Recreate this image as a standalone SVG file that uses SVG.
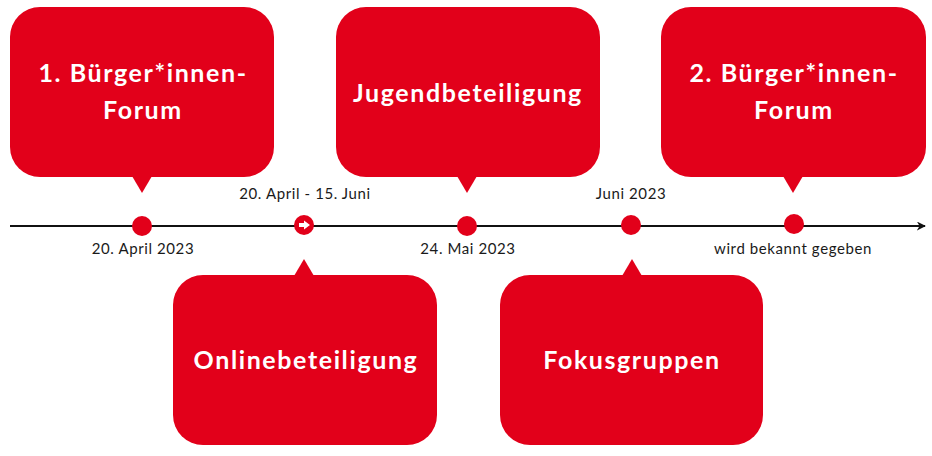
<svg xmlns="http://www.w3.org/2000/svg" width="932" height="456" viewBox="0 0 932 456">
  <defs>
    <style>
      .bubble { fill: #E2001A; }
      .title { font-family: Lato, "Open Sans", "Liberation Sans", sans-serif; font-weight: 700; font-size: 25px; letter-spacing: 1.6px; fill: #ffffff; text-anchor: middle; }
      .label { font-family: Lato, "Open Sans", "Liberation Sans", sans-serif; font-size: 15px; letter-spacing: 0.6px; fill: #1a1a1a; text-anchor: middle; }
      .dot { fill: #E2001A; }
      .axis { stroke: #111111; stroke-width: 2; fill: none; }
    </style>
    <marker id="arrow" viewBox="0 0 10 10" refX="9" refY="5" markerWidth="4.5" markerHeight="4.5" orient="auto" markerUnits="strokeWidth">
      <path d="M0,0 L10,5 L0,10 L3,5 Z" fill="#111111"/>
    </marker>
  </defs>
  <rect width="932" height="456" fill="#ffffff"/>

  <g id="connectors">
    <line class="axis" x1="10" y1="226" x2="925" y2="226" marker-end="url(#arrow)"/>
  </g>

  <g id="node-forum1">
    <rect class="bubble" x="10" y="7" width="264" height="170" rx="30" ry="30"/>
    <polygon class="bubble" points="132,176 152,176 142,193"/>
    <text class="title" x="143" y="82">1. Bürger*innen-</text>
    <text class="title" x="143" y="119">Forum</text>
  </g>

  <g id="node-jugend">
    <rect class="bubble" x="336" y="7" width="264" height="170" rx="30" ry="30"/>
    <polygon class="bubble" points="457,176 477,176 467,193"/>
    <text class="title" x="468" y="102">Jugendbeteiligung</text>
  </g>

  <g id="node-forum2">
    <rect class="bubble" x="661" y="7" width="265" height="170" rx="30" ry="30"/>
    <polygon class="bubble" points="783,176 803,176 793,193"/>
    <text class="title" x="794" y="82">2. Bürger*innen-</text>
    <text class="title" x="794" y="119">Forum</text>
  </g>

  <g id="node-online">
    <rect class="bubble" x="173" y="275" width="264" height="170" rx="30" ry="30"/>
    <polygon class="bubble" points="294,276 314,276 304,259"/>
    <text class="title" x="306" y="369">Onlinebeteiligung</text>
  </g>

  <g id="node-fokus">
    <rect class="bubble" x="500" y="275" width="263" height="170" rx="30" ry="30"/>
    <polygon class="bubble" points="622,276 642,276 632,259"/>
    <text class="title" x="632" y="369">Fokusgruppen</text>
  </g>

  <g id="node-point1">
    <circle class="dot" cx="142" cy="226" r="10"/>
    <text class="label" x="143" y="254">20. April 2023</text>
  </g>

  <g id="node-point2">
    <circle class="dot" cx="304" cy="225" r="10"/>
    <path d="M299,223 L304,223 L304,220.5 L310,225 L304,229.5 L304,227 L299,227 Z" fill="#ffffff"/>
    <text class="label" x="305" y="199">20. April - 15. Juni</text>
  </g>

  <g id="node-point3">
    <circle class="dot" cx="467" cy="226" r="10"/>
    <text class="label" x="468" y="254">24. Mai 2023</text>
  </g>

  <g id="node-point4">
    <circle class="dot" cx="631" cy="225" r="10"/>
    <text class="label" x="631" y="199">Juni 2023</text>
  </g>

  <g id="node-point5">
    <circle class="dot" cx="794" cy="224" r="10"/>
    <text class="label" x="793" y="254">wird bekannt gegeben</text>
  </g>
</svg>
